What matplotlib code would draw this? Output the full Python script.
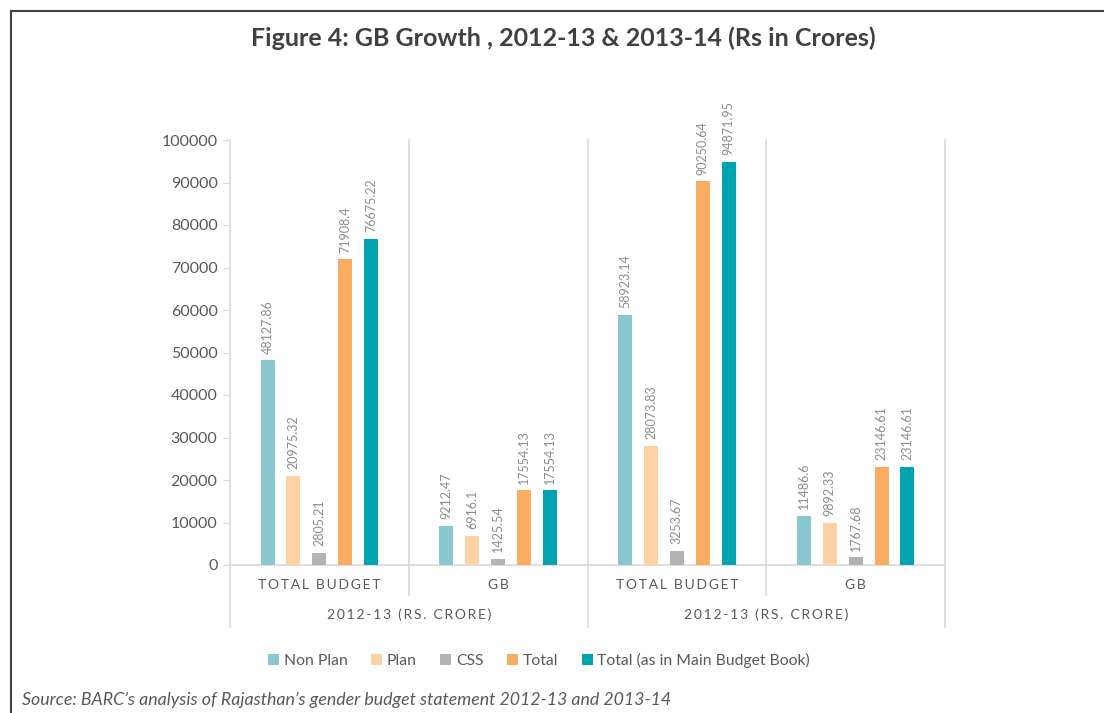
import numpy as np
import matplotlib
matplotlib.use("Agg")
import matplotlib.pyplot as plt

plt.rcParams['font.family'] = ['Lato', 'DejaVu Sans']

# ---------- Data ----------
groups = ["TOTAL BUDGET", "GB", "TOTAL BUDGET", "GB"]
outer_groups = ["2012-13 (RS. CRORE)", "2012-13 (RS. CRORE)"]
series = ["Non Plan", "Plan", "CSS", "Total", "Total (as in Main Budget Book)"]
non_plan = [48127.86, 9212.47, 58923.14, 11486.6]
plan = [20975.32, 6916.1, 28073.83, 9892.33]
css = [2805.21, 1425.54, 3253.67, 1767.68]
total = [71908.4, 17554.13, 90250.64, 23146.61]
total_main = [76675.22, 17554.13, 94871.95, 23146.61]
label_text = {
    "Non Plan": ["48127.86", "9212.47", "58923.14", "11486.6"],
    "Plan": ["20975.32", "6916.1", "28073.83", "9892.33"],
    "CSS": ["2805.21", "1425.54", "3253.67", "1767.68"],
    "Total": ["71908.4", "17554.13", "90250.64", "23146.61"],
    "Total (as in Main Budget Book)": ["76675.22", "17554.13", "94871.95", "23146.61"],
}
colors = ["#8AC8D1", "#FDD3A4", "#B3B3B3", "#FAAD60", "#00A3B0"]

values = [non_plan, plan, css, total, total_main]

GRID = "#D9D9D9"
TXT = "#595959"
LBL = "#8C8C8C"

def spaced(s):
    # widen letter spacing like the source chart
    return "\u2009".join(s)

W, H = 1104, 713
fig = plt.figure(figsize=(W / 100, H / 100), dpi=100)
ax = fig.add_axes([230 / W, 1 - 565 / H, 715 / W, 425 / H])

x = np.arange(len(groups))
step = 0.145
width = 0.078
for i, (name, vals, c) in enumerate(zip(series, values, colors)):
    pos = x + (i - 2) * step
    ax.bar(pos, vals, width=width, color=c, label=name, zorder=3)
    for p, v, t in zip(pos, vals, label_text[name]):
        ax.text(p, v + 1600, t, rotation=90, ha="center", va="bottom",
                fontsize=9, color=LBL)

ax.set_xlim(-0.5, len(groups) - 0.5)
ax.set_ylim(0, 100000)
ax.set_yticks(np.arange(0, 100001, 10000))
ax.tick_params(axis="y", colors=GRID, labelcolor=TXT, labelsize=11.5, length=5, pad=4)
ax.tick_params(axis="x", length=0, labelbottom=False)
ax.spines["top"].set_visible(False)
ax.spines["left"].set_visible(False)
ax.spines["right"].set_visible(False)
ax.spines["bottom"].set_color(GRID)
ax.spines["bottom"].set_linewidth(1.2)

# boundaries between categories, extending below the axis
ph = 425.0
for b in np.arange(-0.5, len(groups), 1.0):
    outer = (int(b + 0.5) % 2 == 0)
    ymin = -(627 - 565) / ph if outer else -(595 - 565) / ph
    ax.axvline(b, ymin=ymin, ymax=1, color=GRID, lw=1.2, clip_on=False, zorder=1)

# category labels
for xi, g in zip(x, groups):
    ax.text(xi, -(585 - 565) / ph, spaced(g), transform=ax.get_xaxis_transform(),
            ha="center", va="center", fontsize=10, color=TXT)
for k, og in enumerate(outer_groups):
    ax.text(2 * k + 0.5, -(615 - 565) / ph, spaced(og), transform=ax.get_xaxis_transform(),
            ha="center", va="center", fontsize=10, color=TXT)

# title, legend, source
fig.text(563 / W, 1 - 38 / H, "Figure 4: GB Growth , 2012-13 & 2013-14 (Rs in Crores)",
         ha="center", va="center", fontsize=18, fontweight="bold", color="#404040")
leg = fig.legend(*ax.get_legend_handles_labels(), loc="center", ncol=5,
                 bbox_to_anchor=(539 / W, 1 - 660 / H), frameon=False,
                 fontsize=11.3, handlelength=0.7, handleheight=0.7, handletextpad=0.3,
                 columnspacing=1.5)
for t in leg.get_texts():
    t.set_color(TXT)
fig.text(22 / W, 1 - 700 / H,
         "Source: BARC\u2019s analysis of Rajasthan\u2019s gender budget statement 2012-13 and 2013-14",
         ha="left", va="center", fontsize=12.8, style="italic", color=TXT)

# frame around figure (top and left edges)
fig.add_artist(plt.Line2D([11 / W, 11 / W], [0, 1 - 11 / H], transform=fig.transFigure,
                          color="#404040", lw=1.5))
fig.add_artist(plt.Line2D([11 / W, 1], [1 - 11 / H, 1 - 11 / H], transform=fig.transFigure,
                          color="#404040", lw=1.5))

fig.savefig("out.png", dpi=100)
